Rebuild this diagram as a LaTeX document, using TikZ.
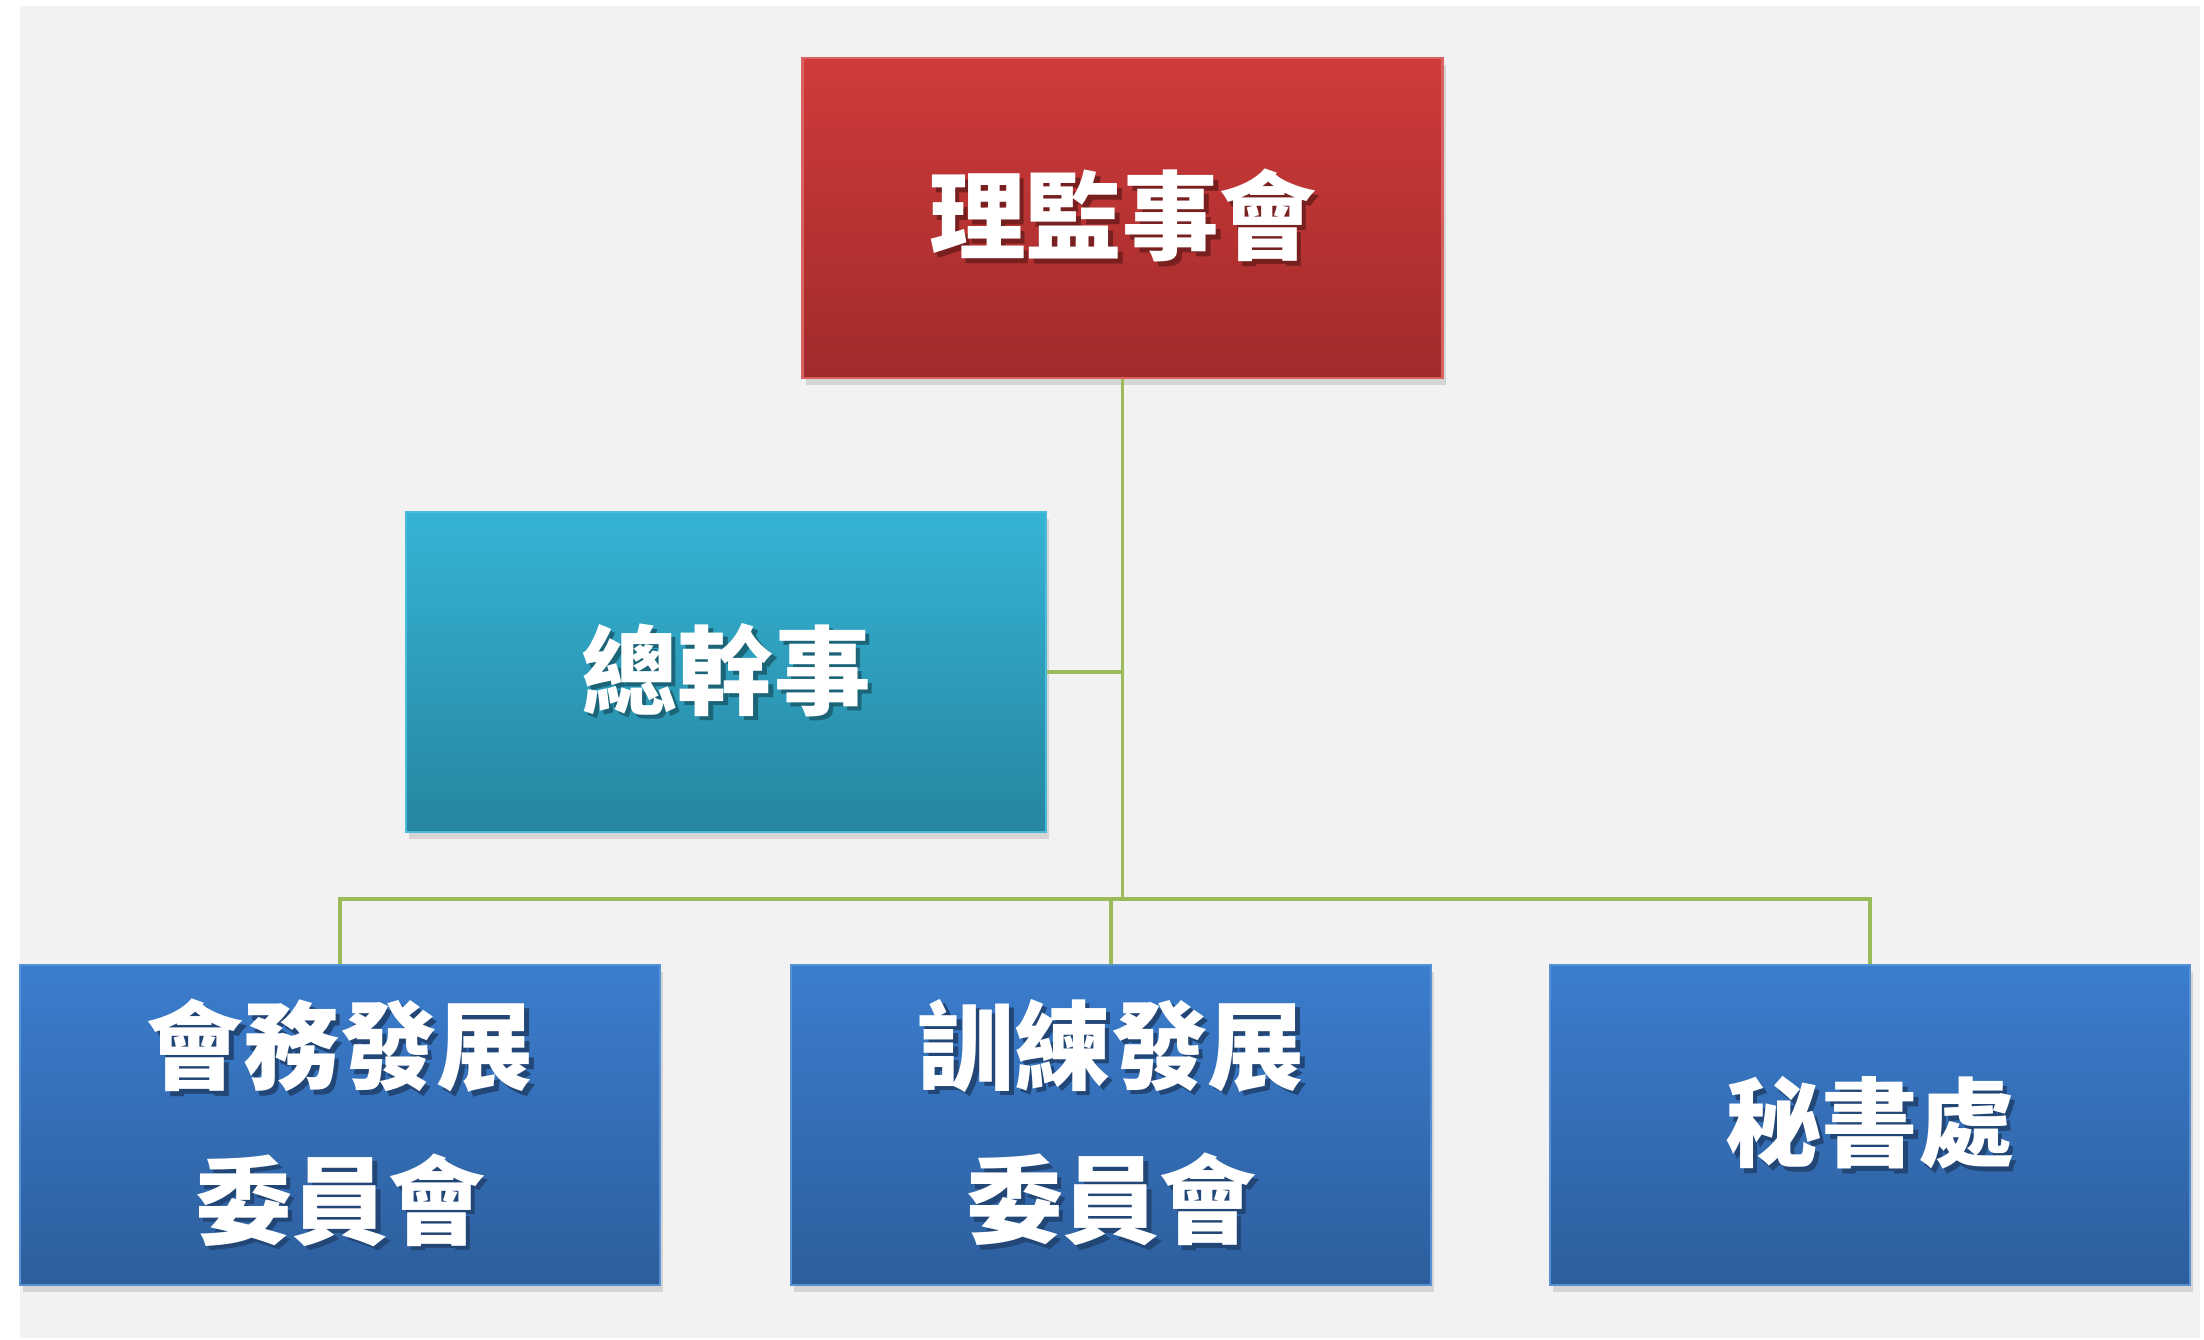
\documentclass[tikz,border=0pt]{standalone}
\usepackage{fontspec}
\usepackage{xcolor}
\usetikzlibrary{
		calc,
		shadows,
		positioning
	}
\newfontfamily\cjk{Noto Sans CJK TC}
\definecolor{bgGray}{HTML}{F2F2F2}
\definecolor{linkGreen}{HTML}{9BBB59}
\definecolor{redTop}{HTML}{D03B3A}
\definecolor{redBot}{HTML}{A02B2B}
\definecolor{tealTop}{HTML}{36B3D6}
\definecolor{tealBot}{HTML}{25869F}
\definecolor{blueTop}{HTML}{3B7DCE}
\definecolor{blueBot}{HTML}{2D5E9C}
\colorlet{shc}{black!50}
\newcommand{\shtext}[1]{\makebox[0pt][l]{\hspace{0.045cm}\raisebox{-0.045cm}{\color{shc}#1}}#1}
\tikzset{
		>=stealth,
		unit/.style={rectangle, minimum width=6.4cm, minimum height=3.2cm, inner sep=0pt,
			text=white, align=center, line width=0.6pt,
			drop shadow={shadow xshift=0.03cm, shadow yshift=-0.07cm, opacity=0.25},
			font=\cjk\bfseries\fontsize{27.5pt}{44pt}\selectfont},
		redbox/.style={unit, top color=redTop, bottom color=redBot, draw=redTop!80!white,
			execute at begin node={\colorlet{shc}{redBot!75!black}}},
		tealbox/.style={unit, top color=tealTop, bottom color=tealBot, draw=tealTop!90!white,
			execute at begin node={\colorlet{shc}{tealBot!75!black}}},
		bluebox/.style={unit, top color=blueTop, bottom color=blueBot, draw=blueTop!85!white,
			execute at begin node={\colorlet{shc}{blueBot!75!black}}},
		link/.style={linkGreen, line width=0.9pt}
	}
\begin{document}
\begin{tikzpicture}
          \useasboundingbox (0,0) rectangle (22.04,13.40);
          \fill[bgGray] (0.20,0.02) rectangle (22.00,13.34);

          \node[redbox] (L) at (11.225,11.22) {\shtext{理監事會}};
          \node[tealbox] (G) at (7.26,6.68) {\shtext{總幹事}};
          \node[bluebox] (H) at (3.40,2.15) {\shtext{會務發展}\\\shtext{委員會}};
          \node[bluebox] (T) at (11.11,2.15) {\shtext{訓練發展}\\\shtext{委員會}};
          \node[bluebox] (M) at (18.70,2.15) {\shtext{秘書處}};

          \coordinate (J) at (11.225,4.41);

          \draw[link] (L.south) -- (J);
          \draw[link] (G.east) -- (G.east -| J);
          \draw[link] (H.north) |- (J) -| (M.north);
          \draw[link] (T.north) -- (T.north |- J);

          \end{tikzpicture}
\end{document}
